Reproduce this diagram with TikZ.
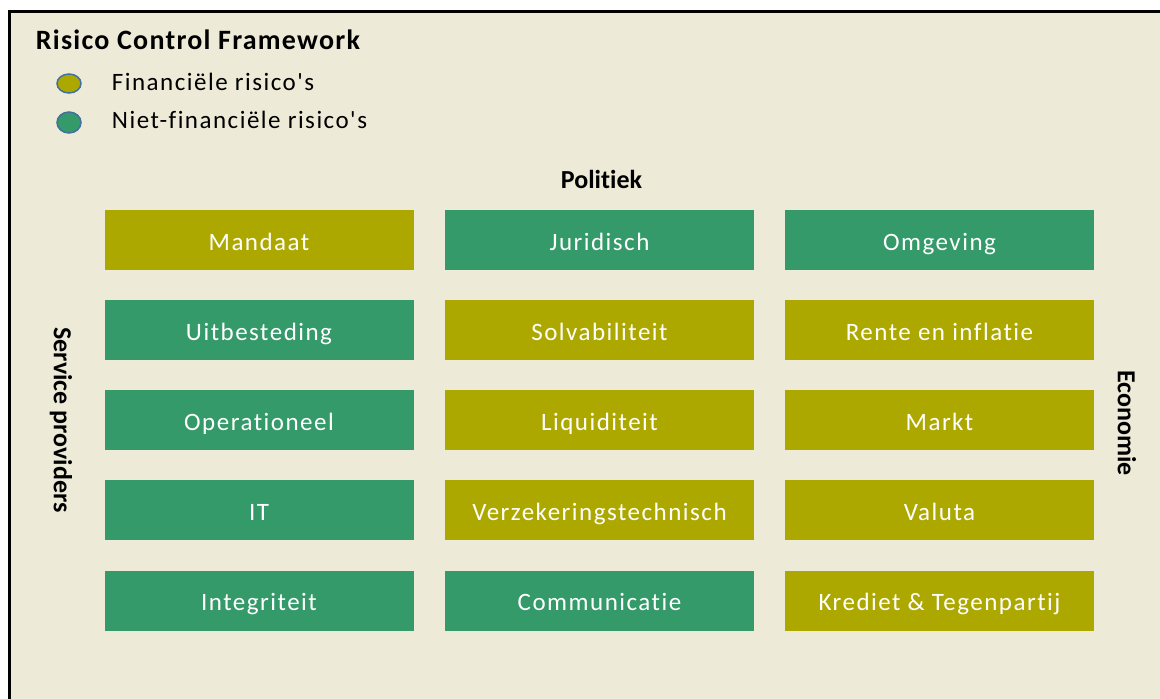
\documentclass[tikz,border=0pt]{standalone}
\usepackage{fontspec}
\setmainfont[Ligatures=NoCommon]{Carlito}
\newfontfamily\boxfont[LetterSpace=6,Ligatures=NoCommon]{Carlito}
\newfontfamily\titlefont[LetterSpace=4.5,Ligatures=NoCommon]{Carlito}
\definecolor{finc}{RGB}{173,168,0}
\definecolor{nfinc}{RGB}{52,154,106}
\definecolor{bgc}{RGB}{237,235,216}
\definecolor{outl}{RGB}{65,113,156}
\tikzset{
  riskbox/.style={minimum width=309pt, minimum height=60pt, inner sep=0pt, text=white,
     text height=30pt, text depth=10pt,
     font=\boxfont\fontsize{25}{30}\selectfont},
  fin/.style={riskbox, fill=finc},
  nfin/.style={riskbox, fill=nfinc},
  axislabel/.style={font=\bfseries\fontsize{26}{30}\selectfont, inner sep=0pt},
  legtext/.style={font=\boxfont\fontsize{25}{30}\selectfont, anchor=base west, inner sep=0pt},
  legdot/.style={draw=outl, line width=1.5pt}
}
\begin{document}
\begin{tikzpicture}[x=1pt,y=-1pt]
\useasboundingbox (0,0) rectangle (1160,699);
\fill[bgc] (11,12) rectangle (1160,699);
\draw[line width=3pt] (9.5,699) -- (9.5,11) -- (1160,11);
\node[anchor=base west, inner sep=0pt, font=\titlefont\bfseries\fontsize{28}{32}\selectfont] (title) at (35.7,49.3) {Risico Control Framework};
\draw[legdot, fill=finc] (69,83.5) ellipse [x radius=12, y radius=9.5];
\draw[legdot, fill=nfinc] (69,122.5) ellipse [x radius=12, y radius=10.5];
\node[legtext] (lf) at (111.7,90) {Financiële risico's};
\node[legtext] (lnf) at (111.7,128.3) {Niet-financiële risico's};
\node[axislabel, anchor=base] (pol) at (601.5,188.3) {Politiek};
\node[axislabel, rotate=-90] (sp) at (61,420) {Service providers};
\node[axislabel, rotate=-90] (eco) at (1127,423) {Economie};
% column 1
\node[fin]  (b11) at (259,240) {Mandaat};
\node[nfin] (b21) at (259,330) {Uitbesteding};
\node[nfin] (b31) at (259,420) {Operationeel};
\node[nfin] (b41) at (259,510) {IT};
\node[nfin] (b51) at (259,600.5) {Integriteit};
% column 2
\node[nfin] (b12) at (599.5,240) {Juridisch};
\node[fin]  (b22) at (599.5,330) {Solvabiliteit};
\node[fin]  (b32) at (599.5,420) {Liquiditeit};
\node[fin]  (b42) at (599.5,510) {Verzekeringstechnisch};
\node[nfin] (b52) at (599.5,600.5) {Communicatie};
% column 3
\node[nfin] (b13) at (939.5,240) {Omgeving};
\node[fin]  (b23) at (939.5,330) {Rente en inflatie};
\node[fin]  (b33) at (939.5,420) {Markt};
\node[fin]  (b43) at (939.5,510) {Valuta};
\node[fin]  (b53) at (939.5,600.5) {Krediet \& Tegenpartij};
\end{tikzpicture}
\end{document}
